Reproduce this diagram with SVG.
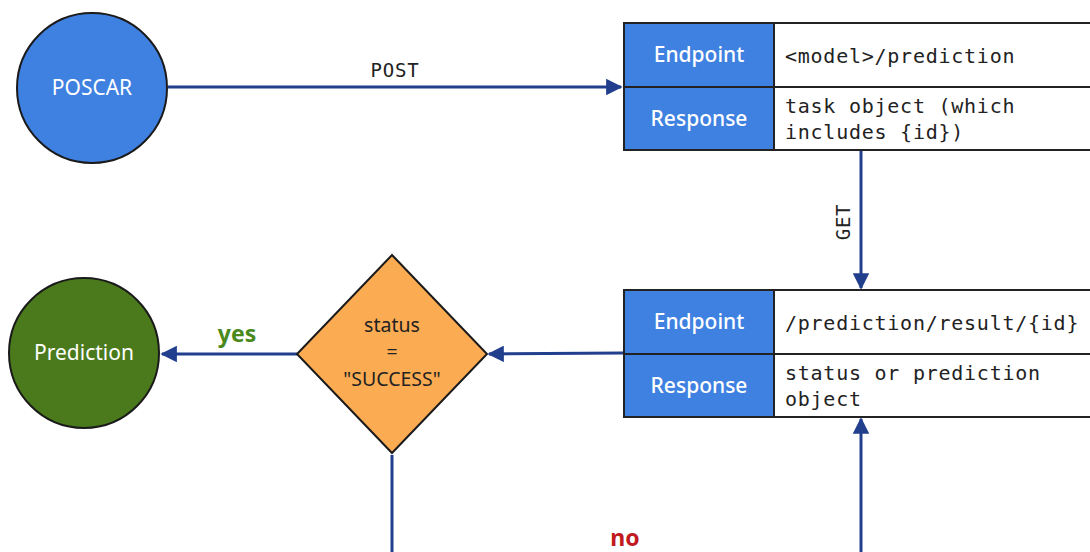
<svg xmlns="http://www.w3.org/2000/svg" width="1090" height="552" viewBox="0 0 1090 552">
<style>
.lbl{fill:#3f81e0;stroke:#222;stroke-width:2}
.cell{fill:#fff;stroke:#222;stroke-width:2}
.lt{font-family:"Noto Sans","Open Sans",sans-serif;font-size:21px;font-weight:500;fill:#fff;text-anchor:middle}
.mono{font-family:"DejaVu Sans Mono","Liberation Mono",monospace;font-size:20px;fill:#222;letter-spacing:0.75px}
.conn{stroke:#213f8d;stroke-width:3;fill:none}
.ct{font-family:"Noto Sans","Open Sans",sans-serif;font-size:21px}
.dt{font-family:"Noto Sans","Open Sans",sans-serif;font-size:19.5px;fill:#222;text-anchor:middle}
</style>
<defs>
<marker id="ah" viewBox="0 0 10 10" refX="9" refY="5" markerWidth="5.5" markerHeight="5.5" orient="auto" markerUnits="strokeWidth">
<path d="M0,0 L10,5 L0,10 z" fill="#213f8d"/>
</marker>
</defs>
<rect width="1090" height="552" fill="#fff"/>
<g id="connectors">
<line class="conn" x1="168" y1="87" x2="621" y2="87" marker-end="url(#ah)"/>
<line class="conn" x1="861" y1="151" x2="861" y2="288" marker-end="url(#ah)"/>
<line class="conn" x1="623" y1="353" x2="489" y2="354" marker-end="url(#ah)"/>
<line class="conn" x1="297" y1="354" x2="162" y2="354" marker-end="url(#ah)"/>
<line class="conn" x1="392" y1="455" x2="392" y2="560"/>
<line class="conn" x1="861" y1="560" x2="861" y2="419" marker-end="url(#ah)"/>
<text x="395" y="77" class="mono" text-anchor="middle" style="font-size:19px">POST</text>
<text x="0" y="0" class="mono" text-anchor="middle" style="font-size:19px" transform="translate(850,222) rotate(-90)">GET</text>
<text x="237" y="342" class="ct" text-anchor="middle" style="font-weight:700;fill:#4a8a1c;font-size:23px">yes</text>
<text x="625" y="546" class="ct" text-anchor="middle" style="font-weight:700;fill:#c0191e;font-size:23px">no</text>
</g>
<g id="poscar">
<circle cx="92" cy="88" r="75" fill="#3f81e0" stroke="#1a1a1a" stroke-width="2"/>
<text x="92" y="95" class="ct" text-anchor="middle" fill="#fff">POSCAR</text>
</g>
<g id="prediction">
<circle cx="84" cy="353" r="75" fill="#4a7a1c" stroke="#1a1a1a" stroke-width="2"/>
<text x="84" y="360" class="ct" text-anchor="middle" fill="#fff">Prediction</text>
</g>
<g id="decision">
<polygon points="392,255 487,354 392,453 297,354" fill="#fbab52" stroke="#1a1a1a" stroke-width="2"/>
<text x="392" y="332" class="dt">status</text>
<text x="392" y="359" class="dt">=</text>
<text x="392" y="386" class="dt">"SUCCESS"</text>
</g>
<g id="table-post">
<rect class="cell" x="774" y="23" width="330" height="64"/>
<rect class="cell" x="774" y="87" width="330" height="63"/>
<rect class="lbl" x="624" y="23" width="150" height="64"/>
<rect class="lbl" x="624" y="87" width="150" height="63"/>
<text x="699" y="62" class="lt">Endpoint</text>
<text x="699" y="126" class="lt">Response</text>
<text x="785" y="63" class="mono">&lt;model&gt;/prediction</text>
<text x="785" y="113" class="mono">task object (which</text>
<text x="785" y="139" class="mono">includes {id})</text>
</g>
<g id="table-result">
<rect class="cell" x="774" y="290" width="330" height="64"/>
<rect class="cell" x="774" y="354" width="330" height="63"/>
<rect class="lbl" x="624" y="290" width="150" height="64"/>
<rect class="lbl" x="624" y="354" width="150" height="63"/>
<text x="699" y="329" class="lt">Endpoint</text>
<text x="699" y="393" class="lt">Response</text>
<text x="785" y="330" class="mono">/prediction/result/{id}</text>
<text x="785" y="380" class="mono">status or prediction</text>
<text x="785" y="406" class="mono">object</text>
</g>
</svg>
